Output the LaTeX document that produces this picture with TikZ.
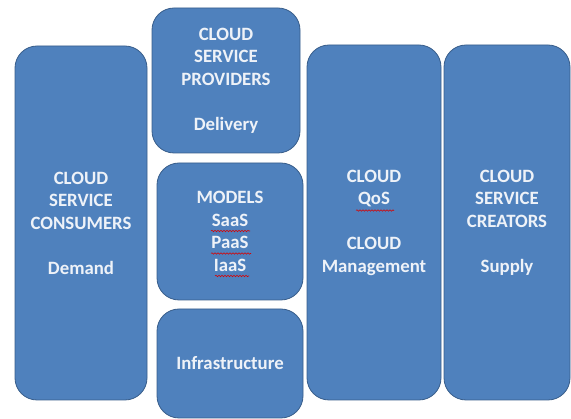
\documentclass[tikz,border=0pt]{standalone}
\usepackage{fontspec}
\setmainfont{Carlito}[BoldFont={Carlito Bold}]
\usetikzlibrary{decorations.pathmorphing}
\definecolor{boxfill}{HTML}{4F81BD}
\definecolor{boxline}{HTML}{385D8A}
\definecolor{boxtext}{HTML}{EEF2F8}
\begin{document}
\begin{tikzpicture}[x=1pt,y=-1pt,
  panel/.style={draw=boxline, line width=0.8pt, fill=boxfill, rounded corners=22pt,
    inner sep=0pt, align=center, text=boxtext,
    font=\bfseries\fontsize{18.8}{22.5}\selectfont},
  spell/.style={draw=red!85!black, line width=0.6pt, decorate,
    decoration={snake, segment length=3pt, amplitude=0.7pt}}]
\useasboundingbox (0,0) rectangle (571,419);
\node[panel, minimum width=132pt, minimum height=354pt] (consumers) at (81,223)
  {CLOUD\\SERVICE\\CONSUMERS\\[22.5pt]Demand};
\node[panel, minimum width=148pt, minimum height=145pt] (providers) at (226,80.5)
  {CLOUD\\SERVICE\\PROVIDERS\\[22.5pt]Delivery};
\node[panel, minimum width=146pt, minimum height=137pt] (models) at (230,231.5)
  {MODELS\\SaaS\\PaaS\\IaaS};
\node[panel, minimum width=146pt, minimum height=109pt] (infra) at (230,363.5)
  {Infrastructure};
\node[panel, minimum width=134pt, minimum height=355pt] (qos) at (374,222.5)
  {CLOUD\\QoS\\[22.5pt]CLOUD\\Management};
\node[panel, minimum width=126pt, minimum height=355pt] (creators) at (507,222.5)
  {CLOUD\\SERVICE\\CREATORS\\[22.5pt]Supply};
% spell-check underlines
\draw[spell] (211,231) -- (250,231);
\draw[spell] (211,253.5) -- (251,253.5);
\draw[spell] (215,276) -- (249,276);
\draw[spell] (356,210.5) -- (394,210.5);
\end{tikzpicture}
\end{document}
